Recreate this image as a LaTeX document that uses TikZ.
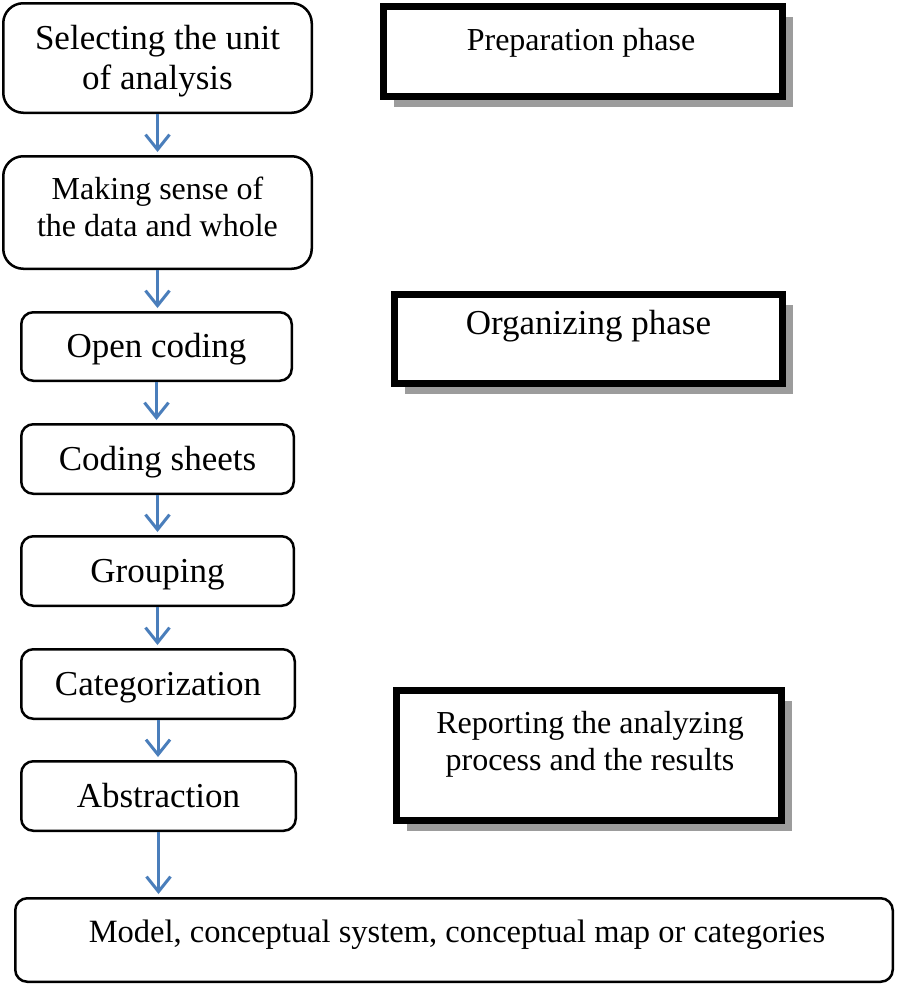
\documentclass[tikz,border=0pt]{standalone}
\usepackage{fontspec}
\setmainfont{Liberation Serif}
\usetikzlibrary{arrows.meta,shadows}
\definecolor{arrblue}{HTML}{4A7EBB}
\definecolor{shadowgray}{HTML}{9C9C9C}
\begin{document}
\begin{tikzpicture}[x=1pt,y=-1pt,
  rbox/.style={draw,line width=2.5pt,rounded corners=12pt,align=center,inner sep=0pt},
  onebox/.style={rbox,text height=30pt,text depth=7.5pt},
  phasebox/.style={draw,line width=7pt,fill=white,inner sep=0pt,
    drop shadow={shadow xshift=10pt,shadow yshift=-10pt,fill=shadowgray,opacity=1}},
  arr/.style={draw=arrblue,line width=3pt,shorten >=3pt,
    -{Straight Barb[length=15pt,width=24pt,line width=3pt]}},
  big/.style={font=\fontsize{35}{40}\selectfont},
  small/.style={font=\fontsize{32}{37}\selectfont},
]
\useasboundingbox (0,0) rectangle (898,985);
\fill[white] (0,0) rectangle (898,985);

% left flow
\node[rbox,big,rounded corners=20pt,minimum width=308.5pt,minimum height=109.5pt] (b1) at (157.5,58) {\rule{0pt}{30pt}Selecting the unit\\of analysis};
\node[rbox,small,rounded corners=20pt,minimum width=308.5pt,minimum height=112.5pt] (b2) at (157.5,212.5) {Making sense of\\the data and whole\rule[-11pt]{0pt}{0pt}};
\node[onebox,big,minimum width=270.5pt,minimum height=68.5pt] (b3) at (156.5,346.5) {Open coding};
\node[onebox,big,minimum width=272.5pt,minimum height=69.5pt] (b4) at (157.5,459) {Coding sheets};
\node[onebox,big,minimum width=272.5pt,minimum height=69.5pt] (b5) at (157.5,571) {Grouping};
\node[onebox,big,minimum width=273.5pt,minimum height=69.5pt] (b6) at (158,684) {Categorization};
\node[onebox,big,minimum width=274.5pt,minimum height=69.5pt] (b7) at (158.5,796) {Abstraction};
\node[rbox,minimum width=877.5pt,minimum height=83.5pt] (b8) at (454,940) {};
\node[font=\fontsize{32.5}{37}\selectfont,anchor=base] (t8) at (457,942) {Model, conceptual system, conceptual map or categories};

\draw[arr] (b1.south) -- (b1.south |- b2.north);
\draw[arr] (b2.south) -- (b2.south |- b3.north);
\draw[arr] (b3.south) -- (b3.south |- b4.north);
\draw[arr] (b4.south) -- (b4.south |- b5.north);
\draw[arr] (b5.south) -- (b5.south |- b6.north);
\draw[arr] (b6.south) -- (b6.south |- b7.north);
\draw[arr] (b7.south) -- (b7.south |- b8.north);

% phase boxes
\node[phasebox,minimum width=399pt,minimum height=90pt] (p1) at (583,51.5) {};
\node[small,anchor=base] (t1) at (581,50) {Preparation phase};
\node[phasebox,minimum width=388pt,minimum height=89pt] (p2) at (588.5,339) {};
\node[big,anchor=base] (t2) at (588.5,334) {Organizing phase};
\node[phasebox,minimum width=385pt,minimum height=130pt] (p3) at (589,755.5) {};
\node[small,align=center] (t3) at (590,744) {Reporting the analyzing\\process and the results};
\end{tikzpicture}
\end{document}
